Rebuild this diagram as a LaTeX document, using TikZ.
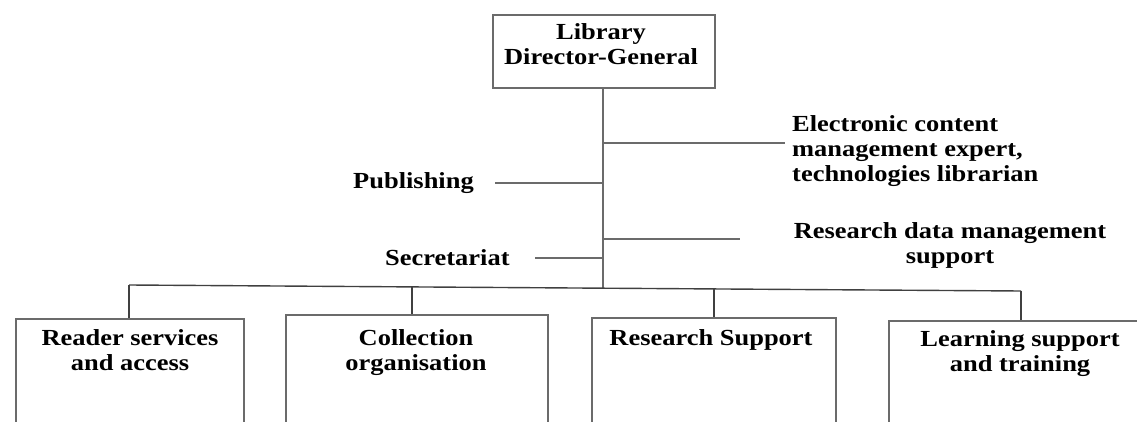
\documentclass[tikz,border=0pt]{standalone}
\usepackage{fontspec}
\setmainfont{Liberation Serif}[FakeStretch=1.15]
\begin{document}
\begin{tikzpicture}[x=1pt, y=-1pt,
		txt/.style={font=\bfseries\fontsize{23}{25}\selectfont, inner sep=0pt, align=center},
		stem/.style={draw=black!58, line width=2pt},
		bus/.style={draw=black!75, line width=1.4pt},
		unit/.style={stem, anchor=north west, minimum height=160pt}]
		\useasboundingbox (0, 0) rectangle (1137, 422);
		\clip (0, 0) rectangle (1137, 422);
		% head of the library
		\node[unit, minimum width=222pt, minimum height=73pt] (dg) at (492, 14) {};
		\node[txt, anchor=base] (dgT) at (601, 65) {Library\\Director-General};
		\coordinate (tb) at (603, 288);
		\draw[stem] (dg.south -| tb) -- (tb);
		% staff positions off the trunk
		\coordinate (j1) at (603, 143);
		\coordinate (j2) at (603, 183);
		\coordinate (j3) at (603, 239);
		\coordinate (j4) at (603, 258);
		\node[txt, align=left, anchor=base west] (ec) at (792, 182) {Electronic content\\management expert,\\technologies librarian};
		\node[txt, anchor=base west] (pub) at (353, 189) {Publishing};
		\node[txt, anchor=base] (rdm) at (950, 263) {Research data management\\support};
		\node[txt, anchor=base west] (sec) at (385, 265) {Secretariat};
		\coordinate (ecEnd) at (785, 143);
		\coordinate (pubEnd) at (495, 183);
		\coordinate (rdmEnd) at (740, 239);
		\coordinate (secEnd) at (535, 258);
		\draw[stem] (j1) -- (ecEnd);
		\draw[stem] (pubEnd) -- (j2);
		\draw[stem] (j3) -- (rdmEnd);
		\draw[stem] (secEnd) -- (j4);
		% departments
		\node[unit, minimum width=228pt] (rs) at (15, 318) {};
		\node[unit, minimum width=262pt] (co) at (285, 314) {};
		\node[unit, minimum width=244pt] (rsup) at (591, 317) {};
		\node[unit, minimum width=266pt] (lst) at (888, 320) {};
		\node[txt, anchor=base] (rsT) at (130, 370) {Reader services\\and access};
		\node[txt, anchor=base] (coT) at (416, 370) {Collection\\organisation};
		\node[txt, anchor=base] (rsupT) at (711, 345) {Research Support};
		\node[txt, anchor=base] (lstT) at (1020, 371) {Learning support\\and training};
		% bus to the departments
		\coordinate (busL) at (129, 285);
		\coordinate (d2) at (412, 287);
		\coordinate (d3) at (714, 289);
		\coordinate (busR) at (1021, 291);
		\draw[bus] (busL) -- (busR);
		\draw[bus] (busL) -- (busL |- rs.north);
		\draw[bus] (d2) -- (d2 |- co.north);
		\draw[bus] (d3) -- (d3 |- rsup.north);
		\draw[bus] (busR) -- (busR |- lst.north);
	\end{tikzpicture}
\end{document}
